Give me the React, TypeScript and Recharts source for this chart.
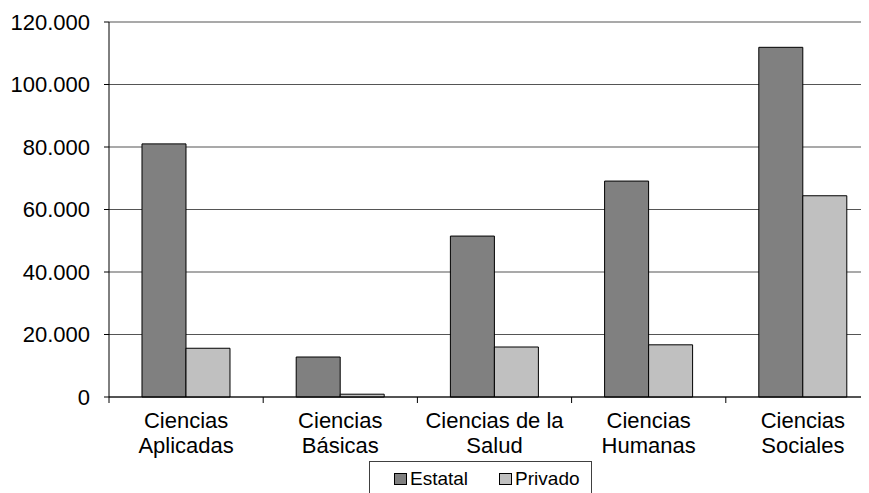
import { Bar, BarChart, CartesianGrid, XAxis, YAxis } from "recharts";

const categories = [
  "Ciencias\nAplicadas",
  "Ciencias\nBásicas",
  "Ciencias de la\nSalud",
  "Ciencias\nHumanas",
  "Ciencias\nSociales",
];
const estatal = [81000, 12800, 51500, 69100, 111900];
const privado = [15600, 900, 16000, 16700, 64400];
const yTicks = [0, 20000, 40000, 60000, 80000, 100000, 120000];

const data = categories.map((name, i) => ({
  name,
  estatal: estatal[i],
  privado: privado[i],
}));

const FONT = "'Liberation Sans', Arial, sans-serif";
const X_TICK = 6;

function formatThousands(value: number) {
  return String(value).replace(/\B(?=(\d{3})+(?!\d))/g, ".");
}

// category label in two lines, plus the tick mark on the left boundary of the band
function CategoryTick(props: any) {
  const { x, y, payload } = props;
  const lines = String(payload.value).split("\n");
  const half = Number(payload.offset) || 0;
  const edge = x - half;
  return (
    <g>
      <line x1={edge} x2={edge} y1={y - X_TICK} y2={y} stroke="#000" />
      {payload.index === categories.length - 1 && (
        <line x1={x + half} x2={x + half} y1={y - X_TICK} y2={y} stroke="#000" />
      )}
      <text x={x} y={y} textAnchor="middle" fontFamily={FONT} fontSize={22} fill="#000">
        {lines.map((line, i) => (
          <tspan key={i} x={x} dy={25}>
            {line}
          </tspan>
        ))}
      </text>
    </g>
  );
}

function ValueTick(props: any) {
  const { y, payload } = props;
  return (
    <text x={90} y={y} dy="0.35em" textAnchor="end" fontFamily={FONT} fontSize={22} fill="#000">
      {formatThousands(payload.value)}
    </text>
  );
}

export default function App() {
  return (
    <div
      style={{
        position: "relative",
        width: 869,
        height: 493,
        marginTop: -8,
        marginLeft: -8,
        overflow: "hidden",
        background: "#fff",
      }}
    >
      <BarChart
        width={892}
        height={493}
        data={data}
        margin={{ top: 22, right: 12, bottom: 36, left: 0 }}
        barCategoryGap="21.4%"
        barGap={0}
      >
        <CartesianGrid vertical={false} stroke="#555" strokeWidth={1.2} />
        <XAxis
          dataKey="name"
          height={60}
          interval={0}
          axisLine={{ stroke: "#000" }}
          tickLine={false}
          tickSize={X_TICK}
          tickMargin={0}
          tick={<CategoryTick />}
        />
        <YAxis
          width={109}
          domain={[0, 120000]}
          ticks={yTicks}
          interval={0}
          axisLine={{ stroke: "#000" }}
          tickLine={{ stroke: "#000" }}
          tickSize={5}
          tick={<ValueTick />}
        />
        <Bar dataKey="estatal" fill="#808080" stroke="#000" strokeWidth={1} isAnimationActive={false} />
        <Bar dataKey="privado" fill="#c0c0c0" stroke="#000" strokeWidth={1} isAnimationActive={false} />
      </BarChart>
      <div
        style={{
          position: "absolute",
          left: 369,
          top: 461,
          width: 221,
          height: 40,
          border: "1px solid #404040",
          fontFamily: FONT,
          fontSize: 19,
          color: "#000",
        }}
      >
        <div style={{ display: "flex", alignItems: "center", paddingLeft: 24, paddingTop: 8, lineHeight: "17px" }}>
          <span style={{ width: 11, height: 10, background: "#808080", border: "1px solid #000", marginRight: 3 }} />
          <span style={{ marginRight: 31 }}>Estatal</span>
          <span style={{ width: 11, height: 10, background: "#c0c0c0", border: "1px solid #000", marginRight: 3 }} />
          <span>Privado</span>
        </div>
      </div>
    </div>
  );
}
